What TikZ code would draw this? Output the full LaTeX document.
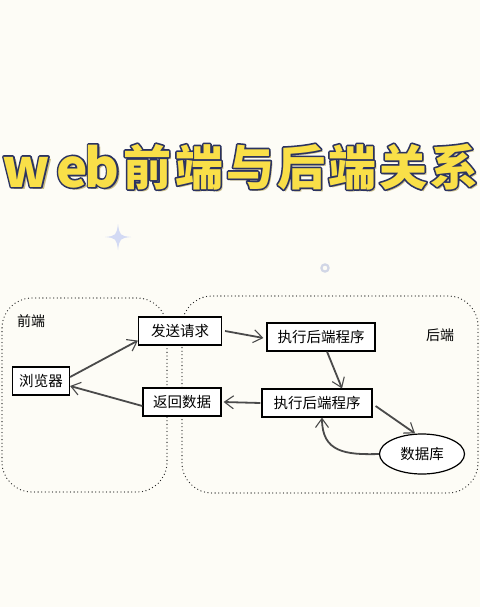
\documentclass[tikz,border=0pt]{standalone}
\usepackage{fontspec}
\newfontfamily\cjk{Noto Sans CJK SC}
\usetikzlibrary{arrows.meta,calc,shapes.geometric}
\definecolor{bgc}{HTML}{FDFCF6}
\definecolor{ttyellow}{HTML}{F9DF48}
\definecolor{ttnavy}{HTML}{2C3462}
\definecolor{ttshadow}{HTML}{C9BC86}
\definecolor{sparkle}{HTML}{D3DAF4}
\definecolor{arrowc}{HTML}{4A4A4A}
\newcommand\outlined[1]{\special{pdf:literal direct 2 Tr 3.2 w 1 j 0.17 0.2 0.38 RG}#1\special{pdf:literal direct 0 Tr}}
\newcommand\tch[5]{% x, baseline y, char, size, name
  \node[ttbase,text=ttshadow,font=\cjk\bfseries\fontsize{#4}{#4}\selectfont] (#5s) at (#1+2.8,#2+2.8) {#3};
  \node[ttbase,text=ttnavy,font=\cjk\bfseries\fontsize{#4}{#4}\selectfont] (#5o) at (#1,#2) {\outlined{#3}};
  \node[ttbase,text=ttyellow,font=\cjk\bfseries\fontsize{#4}{#4}\selectfont] (#5) at (#1,#2) {#3};
}
\begin{document}
\begin{tikzpicture}[x=1pt,y=-1pt,
  ttbase/.style={anchor=base,inner sep=0pt},
  boxnode/.style={draw=black,line width=1.2pt,fill=white,font=\cjk\fontsize{14.5}{14.5}\selectfont,inner xsep=3pt,inner ysep=0pt,minimum height=28pt},
  region/.style={draw=black!85,line width=1.3pt,line cap=round,dash pattern=on 0pt off 3.6pt,rounded corners=30pt},
  flow/.style={draw=arrowc,line width=1.8pt,-{Straight Barb[length=9pt,width=13pt,line width=1.1pt]}},
  lbl/.style={font=\cjk\fontsize{14}{14}\selectfont,inner sep=0pt}]
\fill[bgc] (0,0) rectangle (480,607);
\useasboundingbox (0,0) rectangle (480,607);

% title
\tch{26}{187}{w}{53}{tw}
\tch{72}{187}{e}{53}{te}
\tch{102}{187}{b}{53}{tb}
\tch{147}{185}{前}{48}{t1}
\tch{199}{185}{端}{48}{t2}
\tch{250}{185}{与}{48}{t3}
\tch{301}{185}{后}{48}{t4}
\tch{352}{185}{端}{48}{t5}
\tch{403}{185}{关}{48}{t6}
\tch{454}{185}{系}{48}{t7}

% decorations
\fill[sparkle] (118,224) .. controls (119.5,235) and (120,236) .. (131,237)
  .. controls (120,238) and (119.5,239) .. (118,250)
  .. controls (116.5,239) and (116,238) .. (105,237)
  .. controls (116,236) and (116.5,235) .. (118,224) -- cycle;
\draw[sparkle!90!black!70,line width=2.2pt] (325,268) circle (3.6pt);

% regions
\draw[region] (2,298) rectangle (167,492);
\draw[region] (182,296) rectangle (478,493);
\node[lbl] (fe) at (31,321) {前端};
\node[lbl] (be) at (440,335) {后端};

% nodes
\node[boxnode,minimum width=57pt] (br) at (41,381) {浏览器};
\node[boxnode,minimum width=83pt] (fs) at (180,331) {发送请求};
\node[boxnode,minimum width=78pt] (fh) at (182,402) {返回数据};
\node[boxnode,minimum width=108pt] (ex1) at (321,337) {执行后端程序};
\node[boxnode,minimum width=110pt] (ex2) at (317,403) {执行后端程序};
\node[ellipse,draw=black,line width=1.2pt,fill=white,minimum width=85pt,minimum height=40pt,inner sep=0pt,font=\cjk\fontsize{14.5}{14.5}\selectfont] (db) at (422,454) {数据库};

% connectors
\draw[flow] ([yshift=4pt]br.east) -- ([yshift=5pt]fs.south west);
\draw[flow] ([yshift=-4pt]fh.west) -- ([yshift=-5pt]br.east);
\draw[flow] ([xshift=3pt]fs.east) -- ([xshift=-3pt,yshift=-1pt]ex1.west);
\draw[flow] ([xshift=6pt]ex1.south) -- ([xshift=25pt]ex2.north);
\draw[flow] ([xshift=-1pt]ex2.west) -- ([xshift=2pt]fh.east);
\draw[flow] ([xshift=3pt,yshift=-3pt]ex2.east) -- ([xshift=-7pt]db.north);
\draw[flow] (db.west) .. controls (345,455) and (322,452) .. ([xshift=5pt]ex2.south);
\end{tikzpicture}
\end{document}
